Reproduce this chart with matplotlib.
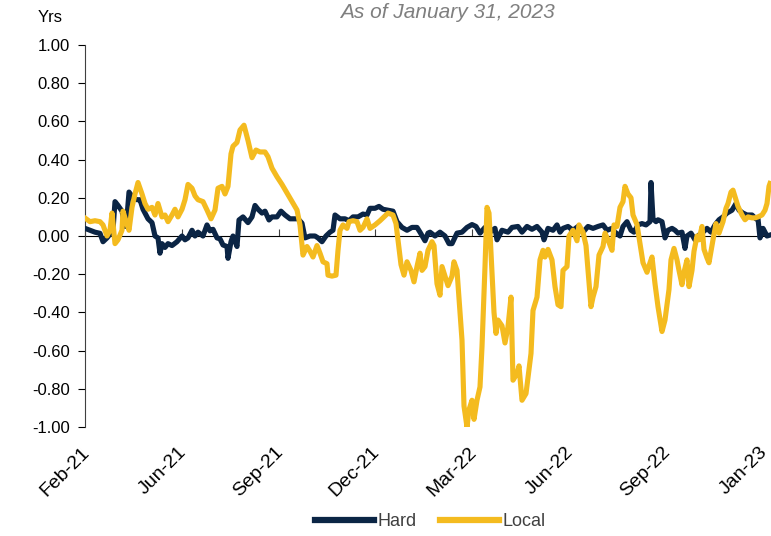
import numpy as np
import matplotlib
matplotlib.use("Agg")
import matplotlib.pyplot as plt
import matplotlib.transforms as mtransforms

plt.rcParams['font.family'] = ['Liberation Sans', 'DejaVu Sans']

# observation index (daily, Feb-21 .. Jan-23) and duration difference in years
hard_obs = [0, 5, 10, 15, 18, 22, 28, 30, 33, 37, 40, 42, 44, 48, 52, 55, 58, 63, 67, 70,
            73, 75, 77, 80, 83, 87, 92, 97, 100, 103, 107, 110, 113, 118, 122, 125, 128, 132,
            135, 138, 142, 143, 146, 148, 152, 154, 158, 163, 167, 170, 173, 177, 180, 184,
            187, 192, 196, 200, 205, 210, 213, 217, 220, 225, 230, 233, 237, 241, 245, 248,
            250, 255, 260, 264, 268, 273, 278, 282, 285, 290, 294, 298, 303, 308, 312, 317,
            322, 327, 332, 335, 340, 343, 345, 350, 355, 360, 364, 367, 372, 377, 382, 387,
            391, 395, 400, 405, 410, 412, 417, 423, 427, 433, 437, 442, 447, 452, 457, 459,
            463, 468, 472, 475, 478, 483, 488, 493, 498, 503, 508, 513, 518, 522, 527, 530,
            535, 538, 542, 546, 549, 553, 557, 561, 565, 566, 568, 571, 573, 577, 580, 583,
            587, 590, 593, 597, 600, 602, 606, 610, 614, 618, 622, 626, 630, 634, 638, 642,
            647, 651, 654, 658, 662, 667, 671, 673, 675, 678, 682, 685]
hard = [0.04, 0.03, 0.02, 0.014, -0.03, -0.01, 0.03, 0.18, 0.16, 0.13, 0.05, 0.10, 0.23, 0.20,
        0.19, 0.19, 0.14, 0.09, 0.07, 0.0, -0.01, -0.09, -0.04, -0.06, -0.04, -0.05, -0.03, 0.0,
        -0.02, -0.01, 0.03, 0.0, 0.02, 0.0, 0.058, 0.027, 0.035, -0.01, -0.015, -0.047, -0.055,
        -0.117, -0.03, 0.0, -0.055, 0.084, 0.10, 0.07, 0.10, 0.16, 0.14, 0.12, 0.13, 0.084,
        0.10, 0.10, 0.13, 0.11, 0.09, 0.09, 0.09, 0.067, -0.01, 0.0, 0.0, -0.01, -0.03, 0.0,
        0.02, 0.03, 0.11, 0.09, 0.09, 0.08, 0.10, 0.10, 0.115, 0.11, 0.145, 0.145, 0.155, 0.14,
        0.135, 0.13, 0.075, 0.045, 0.03, 0.045, 0.045, 0.02, -0.025, 0.015, 0.02, 0.0, 0.02,
        0.0, -0.04, -0.04, 0.015, 0.02, 0.045, 0.06, 0.05, 0.015, 0.045, 0.02, 0.04, -0.02,
        0.03, 0.02, 0.045, 0.05, 0.02, 0.05, 0.035, 0.05, 0.02, -0.02, 0.04, 0.03, 0.058, 0.02,
        0.04, 0.05, 0.03, 0.05, 0.02, 0.05, 0.04, 0.05, 0.058, 0.03, 0.04, 0.02, 0.0, 0.05,
        0.075, 0.03, 0.02, 0.058, 0.065, 0.058, 0.075, 0.28, 0.09, 0.075, 0.085, 0.075, -0.01,
        0.03, 0.04, 0.03, 0.015, 0.02, -0.065, 0.0, 0.015, -0.02, 0.005, 0.02, 0.04, 0.02,
        0.058, 0.085, 0.10, 0.12, 0.135, 0.17, 0.135, 0.12, 0.11, 0.11, 0.09, 0.09, -0.01, 0.04,
        0.0, 0.005]

local_obs = [0, 5, 10, 15, 18, 22, 25, 27, 30, 33, 37, 38, 42, 44, 47, 50, 53, 57, 60, 63,
             67, 70, 73, 77, 80, 83, 87, 90, 93, 97, 100, 103, 107, 110, 113, 118, 122, 126,
             130, 133, 137, 140, 143, 146, 148, 152, 155, 159, 163, 167, 171, 175, 180, 183,
             187, 192, 197, 202, 207, 212, 215, 218, 222, 225, 228, 232, 235, 238, 242, 243,
             247, 251, 253, 255, 258, 262, 264, 268, 272, 275, 278, 282, 285, 290, 295, 299,
             303, 308, 311, 313, 316, 319, 322, 326, 329, 332, 335, 337, 340, 343, 347, 349,
             352, 355, 357, 360, 363, 367, 369, 372, 375, 377, 379, 382, 384, 387, 389, 392,
             395, 397, 400, 402, 404, 407, 409, 411, 413, 417, 420, 423, 426, 428, 432, 434,
             437, 441, 443, 446, 448, 452, 455, 458, 460, 463, 467, 470, 473, 476, 478, 482,
             484, 488, 492, 494, 498, 501, 503, 506, 508, 511, 514, 518, 520, 523, 527, 529,
             532, 535, 538, 540, 543, 546, 548, 552, 555, 558, 562, 565, 567, 570, 573, 577,
             580, 582, 584, 586, 589, 592, 594, 597, 599, 602, 604, 607, 609, 612, 614, 617,
             619, 622, 624, 628, 631, 634, 638, 641, 643, 646, 648, 651, 653, 657, 660, 663,
             667, 670, 673, 677, 680, 682, 684, 685]
local = [0.094, 0.075, 0.08, 0.075, 0.058, 0.0, 0.03, 0.12, -0.04, -0.02, 0.03, 0.13, 0.06,
         0.03, 0.15, 0.22, 0.28, 0.22, 0.17, 0.14, 0.15, 0.11, 0.17, 0.10, 0.11, 0.075, 0.11,
         0.14, 0.10, 0.14, 0.19, 0.27, 0.25, 0.21, 0.19, 0.18, 0.136, 0.09, 0.136, 0.25, 0.26,
         0.22, 0.26, 0.43, 0.47, 0.49, 0.555, 0.58, 0.50, 0.41, 0.45, 0.44, 0.44, 0.415, 0.355,
         0.31, 0.27, 0.225, 0.18, 0.136, 0.058, -0.10, -0.055, -0.08, -0.11, -0.05, -0.09,
         -0.135, -0.145, -0.205, -0.21, -0.205, -0.075, 0.03, 0.058, 0.04, 0.075, 0.08, 0.075,
         0.03, 0.045, 0.09, 0.04, 0.058, 0.08, 0.10, 0.12, 0.11, 0.065, -0.02, -0.15, -0.205,
         -0.135, -0.18, -0.24, -0.16, -0.09, -0.18, -0.16, -0.075, -0.03, -0.05, -0.25, -0.31,
         -0.16, -0.21, -0.26, -0.21, -0.135, -0.18, -0.40, -0.545, -0.89, -1.0, -0.91, -0.86,
         -0.96, -0.86, -0.79, -0.58, -0.16, 0.15, 0.12, -0.195, -0.40, -0.51, -0.44, -0.47,
         -0.56, -0.475, -0.32, -0.755, -0.72, -0.68, -0.86, -0.825, -0.74, -0.615, -0.39, -0.32,
         -0.125, -0.075, -0.11, -0.07, -0.125, -0.265, -0.36, -0.37, -0.18, -0.16, 0.0, 0.03,
         -0.025, 0.058, 0.02, -0.05, -0.18, -0.37, -0.32, -0.265, -0.10, -0.055, 0.015, -0.02,
         -0.075, 0.058, 0.05, 0.15, 0.18, 0.26, 0.22, 0.20, 0.11, 0.06, -0.04, -0.14, -0.19,
         -0.14, -0.11, -0.25, -0.37, -0.50, -0.44, -0.36, -0.28, -0.125, -0.065, -0.125, -0.18,
         -0.255, -0.19, -0.125, -0.265, -0.18, -0.08, 0.0, -0.02, 0.05, -0.07, -0.115, -0.14,
         -0.02, 0.065, 0.015, 0.075, 0.145, 0.17, 0.23, 0.24, 0.19, 0.155, 0.11, 0.085, 0.10,
         0.095, 0.095, 0.10, 0.11, 0.135, 0.17, 0.26, 0.275]

tick_obs = [0, 97, 194, 290, 387, 484, 581, 678]
tick_labels = ['Feb-21', 'Jun-21', 'Sep-21', 'Dec-21', 'Mar-22', 'Jun-22', 'Sep-22', 'Jan-23']
y_ticks = np.round(np.arange(-1.0, 1.01, 0.2), 2)

navy = '#0b2545'
gold = '#f4bb1f'

fig = plt.figure(figsize=(7.71, 5.36), dpi=100)
ax = fig.add_axes([85 / 771, 109 / 536, 686 / 771, 382 / 536])

ax.plot(hard_obs, hard, color=navy, lw=3.7, solid_joinstyle='round', label='Hard', zorder=3)
ax.plot(local_obs, local, color=gold, lw=3.7, solid_joinstyle='round', label='Local', zorder=4)

ax.set_xlim(0, 686)
ax.set_ylim(-1, 1)
ax.set_yticks(y_ticks)
ax.set_yticklabels([f'{v + 0.0:.2f}' for v in y_ticks], fontsize=12)
ax.tick_params(axis='y', direction='out', length=5, width=0.8, pad=6, colors='#000000')

# labels at the bottom, tick marks on the zero line
ax.set_xticks(tick_obs)
ax.set_xticklabels(tick_labels, rotation=45, ha='right', rotation_mode='anchor', fontsize=14)
ax.tick_params(axis='x', length=0, pad=12)
shift = mtransforms.ScaledTranslation(-4 / 100, 0, fig.dpi_scale_trans)
for lbl in ax.get_xticklabels():
    lbl.set_transform(lbl.get_transform() + shift)
for s in ['top', 'right', 'bottom']:
    ax.spines[s].set_visible(False)
ax.spines['left'].set_color('#404040')
ax.spines['left'].set_linewidth(0.8)

zero_ax = ax.secondary_xaxis(0.5)
zero_ax.set_xticks(tick_obs)
zero_ax.set_xticklabels([])
zero_ax.tick_params(direction='out', length=5, width=0.8, color='#404040')
zero_ax.spines['bottom'].set_color('#404040')
zero_ax.spines['bottom'].set_linewidth(1.0)

fig.text(50 / 771, 1 - 17 / 536, 'Yrs', fontsize=12, ha='center', va='center')
fig.text(447 / 771, 1 - 12 / 536, 'As of January 31, 2023', fontsize=15, style='italic',
         color='#7f7f7f', ha='center', va='center')

leg = fig.legend(loc='center', bbox_to_anchor=(430 / 771, 1 - 522 / 536), ncol=2, frameon=False,
                 fontsize=13, handlelength=3.3, handletextpad=0.15, columnspacing=1.3)
for line in leg.get_lines():
    line.set_linewidth(4.5)
for t in leg.get_texts():
    t.set_color('#404040')

fig.savefig('out.png', dpi=100)
